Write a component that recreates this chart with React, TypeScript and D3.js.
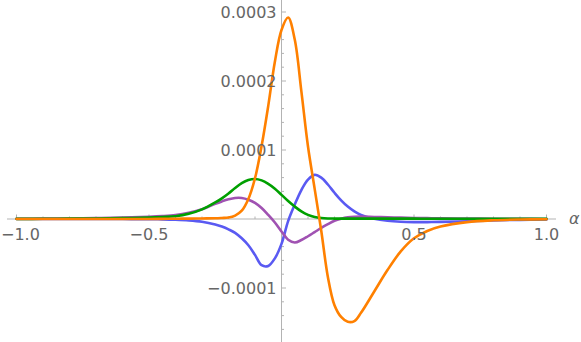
import React from 'react';
import * as d3 from 'd3';

// alpha sample points (shared by every series)
const alphas = [-1, -0.9, -0.8, -0.7, -0.6, -0.5, -0.45, -0.4, -0.35, -0.3, -0.25, -0.225, -0.2, -0.175, -0.15, -0.125, -0.1, -0.075, -0.05, -0.025, 0, 0.025, 0.05, 0.075, 0.1, 0.125, 0.15, 0.175, 0.2, 0.225, 0.25, 0.275, 0.3, 0.35, 0.4, 0.45, 0.5, 0.55, 0.6, 0.7, 0.8, 0.9, 1];

// values in units of 1e-5
const blueVals = [0, 0, 0, 0, -0.01, -0.03, -0.05, -0.1, -0.2, -0.4, -0.8, -1.1, -1.5, -2.0, -2.8, -3.8, -5.2, -6.7, -6.8, -5.7, -3.6, -0.3, 2.1, 4.2, 5.7, 6.4, 6.0, 5.0, 3.8, 2.7, 1.8, 1.1, 0.6, 0.05, -0.25, -0.4, -0.45, -0.45, -0.42, -0.32, -0.2, -0.12, -0.08];
const purpleVals = [0.03, 0.05, 0.08, 0.12, 0.2, 0.32, 0.42, 0.58, 0.9, 1.4, 2.2, 2.55, 2.85, 3.05, 3.05, 2.8, 2.35, 1.6, 0.6, -0.5, -1.8, -3.0, -3.4, -3.05, -2.5, -1.9, -1.3, -0.75, -0.25, 0.05, 0.25, 0.33, 0.35, 0.3, 0.25, 0.2, 0.15, 0.12, 0.1, 0.06, 0.04, 0.02, 0.01];
const greenVals = [0.02, 0.03, 0.05, 0.08, 0.12, 0.2, 0.28, 0.4, 0.75, 1.4, 2.4, 3.0, 3.7, 4.5, 5.2, 5.65, 5.8, 5.6, 5.1, 4.4, 3.5, 2.6, 1.8, 1.1, 0.6, 0.3, 0.15, 0.08, 0.06, 0.05, 0.05, 0.05, 0.05, 0.05, 0.05, 0.05, 0.05, 0.04, 0.04, 0.03, 0.03, 0.02, 0.02];
const orangeVals = [0, 0, 0, 0, 0, 0.01, 0.02, 0.04, 0.06, 0.08, 0.1, 0.15, 0.22, 0.5, 1.2, 2.9, 5.9, 10.6, 16.4, 22.8, 27.4, 29.2, 26.0, 18.5, 10.5, 4.4, -1.7, -8.4, -12.5, -14.2, -14.9, -14.8, -13.6, -10.5, -7.4, -4.7, -2.8, -1.74, -1.1, -0.45, -0.18, -0.07, -0.03];

const series = [
  { name: 'blue', vals: blueVals, color: '#5a5af2' },
  { name: 'purple', vals: purpleVals, color: '#a052b2' },
  { name: 'green', vals: greenVals, color: '#00a000' },
  { name: 'orange', vals: orangeVals, color: '#ff8000' },
];

const xMajor = [-1, -0.5, 0.5, 1];
const xMajorLabels = ['\u22121.0', '\u22120.5', '0.5', '1.0'];
const yMajor = [-0.0001, 0.0001, 0.0002, 0.0003];
const yMajorLabels = ['\u22120.0001', '0.0001', '0.0002', '0.0003'];

const W = 581;
const H = 342;

export default function App() {
  const x = d3.scaleLinear().domain([-1, 1]).range([16.5, 546.5]);
  const y = d3.scaleLinear().domain([0, 0.0003]).range([219, 12]);
  const x0 = x(0);
  const y0 = y(0);

  const line = d3.line<number>()
    .x((_, i) => x(alphas[i]))
    .y(d => y(d * 1e-5))
    .curve(d3.curveCatmullRom.alpha(0.5));

  const xMinor = d3.range(-10, 11).map(i => i / 10).filter(v => v !== 0 && Math.abs(v * 2 % 1) > 1e-9);
  const yMinor = d3.range(-8, 16).map(i => i * 0.00002).filter(v => Math.abs(v) > 1e-12 && Math.abs((v / 0.0001) % 1) > 1e-6 && Math.abs((v / 0.0001) % 1) < 1 - 1e-6);

  const axisColor = '#b3b3b3';
  const textColor = '#666666';
  const font = "'DejaVu Sans', sans-serif";

  return (
    <svg width={W} height={H} style={{ position: 'absolute', left: 0, top: 0, background: '#fff' }}>
      {/* axes */}
      <line x1={7} x2={556} y1={y0} y2={y0} stroke={axisColor} strokeWidth={1} />
      <line x1={x0} x2={x0} y1={0} y2={H} stroke={axisColor} strokeWidth={1} />

      {/* x ticks */}
      {xMinor.map(v => (
        <line key={'xm' + v} x1={x(v)} x2={x(v)} y1={y0} y2={y0 - 2.5} stroke={axisColor} />
      ))}
      {xMajor.map(v => (
        <line key={'xM' + v} x1={x(v)} x2={x(v)} y1={y0} y2={y0 - 4.5} stroke={axisColor} />
      ))}
      {/* y ticks */}
      {yMinor.map(v => (
        <line key={'ym' + v} x1={x0} x2={x0 + 2.5} y1={y(v)} y2={y(v)} stroke={axisColor} />
      ))}
      {yMajor.map(v => (
        <line key={'yM' + v} x1={x0} x2={x0 + 4.5} y1={y(v)} y2={y(v)} stroke={axisColor} />
      ))}

      {/* curves */}
      {series.map(s => (
        <path key={s.name} d={line(s.vals) || ''} fill="none" stroke={s.color} strokeWidth={2.6} strokeLinejoin="round" strokeLinecap="round" />
      ))}

      {/* labels */}
      {xMajor.map((v, i) => (
        <text key={'xl' + v} x={i === 0 ? 1 : x(v)} y={y0 + 21} textAnchor={i === 0 ? 'start' : 'middle'} fontFamily={font} fontSize={16} fill={textColor}>
          {xMajorLabels[i]}
        </text>
      ))}
      {yMajor.map((v, i) => (
        <text key={'yl' + v} x={x0 - 5} y={y(v) + 6} textAnchor="end" fontFamily={font} fontSize={16} fill={textColor}>
          {yMajorLabels[i]}
        </text>
      ))}
      <text x={569} y={y0 + 5} fontFamily={font} fontSize={16} fontStyle="italic" fill={textColor}>α</text>
    </svg>
  );
}
